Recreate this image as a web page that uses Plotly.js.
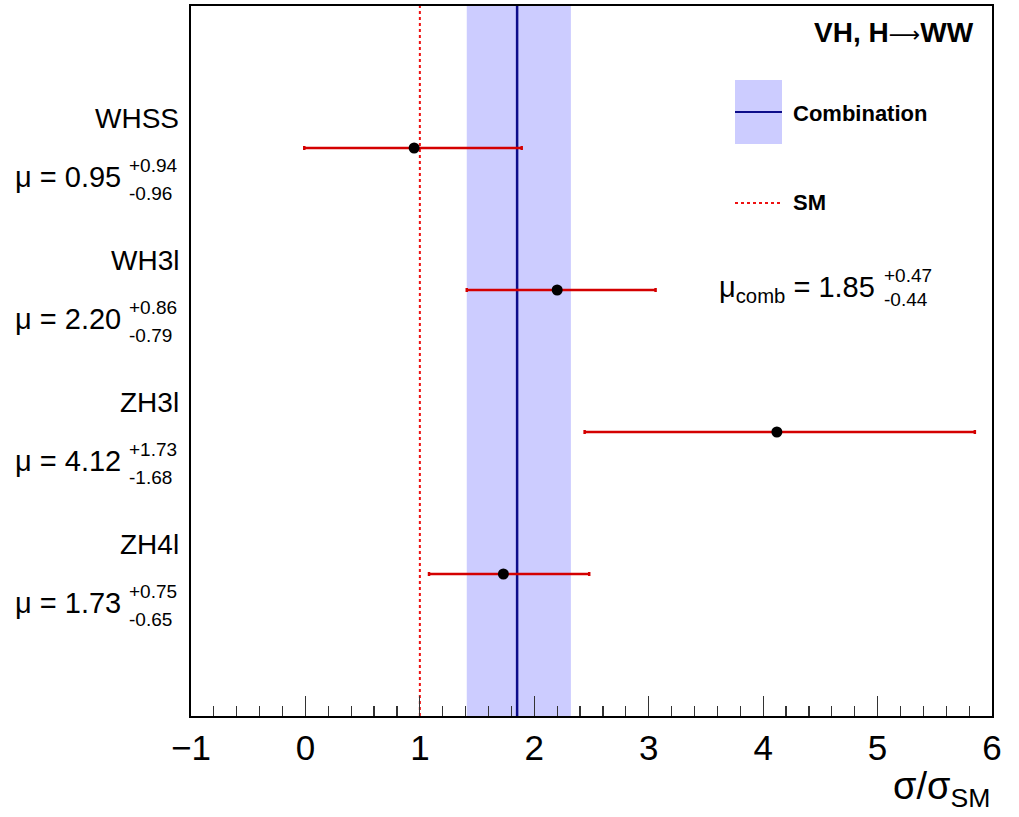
<!DOCTYPE html>
<html>
<head>
<meta charset="utf-8">
<script src="https://cdn.plot.ly/plotly-3.0.1.min.js"></script>
<style>html,body{margin:0;padding:0;background:#fff;}#chart{width:1019px;height:817px;}</style>
</head>
<body>
<div id="chart"></div>
<script>
// ---- data ----
const channels = ["WHSS", "WH3l", "ZH3l", "ZH4l"];
const channelLabels = ["WHSS", "WH3l", "ZH3l", "ZH4l"];
const mu = [0.95, 2.20, 4.12, 1.73];
const errUp = [0.94, 0.86, 1.73, 0.75];
const errDown = [0.96, 0.79, 1.68, 0.65];
const rowPos = [4, 3, 2, 1];
const muComb = 1.85;
const muCombUp = 0.47;
const muCombDown = 0.44;
const smValue = 1;
const xTickVals = [-1, 0, 1, 2, 3, 4, 5, 6];

// layout helpers (plot area in pixels: left 191, right 992, top 6, bottom 716)
const L = 191, R = 992, T = 6, B = 716;
const px = x => (x - L) / (R - L);
const py = y => (B - y) / (B - T);

const FONT = "Liberation Sans, Arial, Helvetica, sans-serif";

const traces = [{
  type: "scatter",
  mode: "markers",
  x: mu,
  y: rowPos,
  marker: {color: "black", size: 11},
  error_x: {
    type: "data",
    symmetric: false,
    array: errUp,
    arrayminus: errDown,
    color: "#d40000",
    thickness: 2.5,
    width: 2
  },
  showlegend: false,
  hoverinfo: "x"
}];

const annotations = [];
channels.forEach((c, i) => {
  annotations.push({xref: "paper", yref: "y", x: px(181), y: rowPos[i], yshift: 30,
    xanchor: "right", yanchor: "middle", showarrow: false, text: channelLabels[i],
    font: {family: FONT, size: 28, color: "black"}});
  annotations.push({xref: "paper", yref: "y", x: px(123), y: rowPos[i], yshift: -29,
    xanchor: "right", yanchor: "middle", showarrow: false, text: "\u03bc = " + mu[i].toFixed(2),
    font: {family: FONT, size: 29, color: "black"}});
  annotations.push({xref: "paper", yref: "y", x: px(127), y: rowPos[i], yshift: -17,
    xanchor: "left", yanchor: "middle", showarrow: false, text: "+" + errUp[i].toFixed(2),
    font: {family: FONT, size: 19, color: "black"}});
  annotations.push({xref: "paper", yref: "y", x: px(127), y: rowPos[i], yshift: -45,
    xanchor: "left", yanchor: "middle", showarrow: false, text: "-" + errDown[i].toFixed(2),
    font: {family: FONT, size: 19, color: "black"}});
});

// combination text
annotations.push({xref: "paper", yref: "paper", x: px(877), y: py(289),
  xanchor: "right", yanchor: "middle", showarrow: false,
  text: "\u03bc<sub>comb</sub> = " + muComb.toFixed(2),
  font: {family: FONT, size: 29, color: "black"}});
annotations.push({xref: "paper", yref: "paper", x: px(882), y: py(275),
  xanchor: "left", yanchor: "middle", showarrow: false, text: "+" + muCombUp.toFixed(2),
  font: {family: FONT, size: 19, color: "black"}});
annotations.push({xref: "paper", yref: "paper", x: px(882), y: py(299),
  xanchor: "left", yanchor: "middle", showarrow: false, text: "-" + muCombDown.toFixed(2),
  font: {family: FONT, size: 19, color: "black"}});

// header
annotations.push({xref: "paper", yref: "paper", x: px(976), y: py(33),
  xanchor: "right", yanchor: "middle", showarrow: false,
  text: "<b>VH, H</b><span style=\"font-family:'DejaVu Sans';font-weight:normal;font-size:22px\">\u27f6</span><b>WW</b>",
  font: {family: FONT, size: 28, color: "black"}});

// legend text
annotations.push({xref: "paper", yref: "paper", x: px(791), y: py(113),
  xanchor: "left", yanchor: "middle", showarrow: false, text: "<b>Combination</b>",
  font: {family: FONT, size: 22, color: "black"}});
annotations.push({xref: "paper", yref: "paper", x: px(791), y: py(203),
  xanchor: "left", yanchor: "middle", showarrow: false, text: "<b>SM</b>",
  font: {family: FONT, size: 22, color: "black"}});

// x axis title
annotations.push({xref: "paper", yref: "paper", x: 1, y: py(789),
  xanchor: "right", yanchor: "middle", showarrow: false, text: "\u03c3/\u03c3<sub>SM</sub>",
  font: {family: FONT, size: 38, color: "black"}});

const shapes = [
  // combination band
  {type: "rect", xref: "x", yref: "paper", x0: muComb - muCombDown, x1: muComb + muCombUp,
   y0: 0, y1: 1, fillcolor: "#ccccff", line: {width: 0}, layer: "below"},
  // combination line
  {type: "line", xref: "x", yref: "paper", x0: muComb, x1: muComb, y0: 0, y1: 1,
   line: {color: "#0c0c8a", width: 2.5}, layer: "below"},
  // SM line
  {type: "line", xref: "x", yref: "paper", x0: smValue, x1: smValue, y0: 0, y1: 1,
   line: {color: "#ee1111", width: 2, dash: "dot"}, layer: "below"},
  // legend: combination swatch
  {type: "rect", xref: "paper", yref: "paper", x0: px(735), x1: px(782), y0: py(144), y1: py(80),
   fillcolor: "#ccccff", line: {width: 0}},
  {type: "line", xref: "paper", yref: "paper", x0: px(735), x1: px(782), y0: py(112), y1: py(112),
   line: {color: "#0c0c8a", width: 2}},
  // legend: SM swatch
  {type: "line", xref: "paper", yref: "paper", x0: px(735), x1: px(782), y0: py(203), y1: py(203),
   line: {color: "#ee1111", width: 2, dash: "dot"}}
];

const layout = {
  width: 1019, height: 817,
  margin: {l: L, r: 1019 - R, t: T, b: 817 - B, pad: 0},
  paper_bgcolor: "white", plot_bgcolor: "white",
  showlegend: false,
  xaxis: {
    range: [-1, 6], tickvals: xTickVals, ticktext: xTickVals.map(v => v < 0 ? "\u2212" + Math.abs(v) : String(v)),
    ticks: "inside", ticklen: 20, tickwidth: 1.2, tickcolor: "#333",
    minor: {dtick: 0.2, tick0: 0, ticks: "inside", ticklen: 10, tickwidth: 1.2, tickcolor: "#333", showgrid: false},
    showline: true, linecolor: "black", linewidth: 2, mirror: true,
    showgrid: false, zeroline: false,
    tickfont: {family: FONT, size: 35, color: "black"}
  },
  yaxis: {
    range: [0, 5], showticklabels: false, ticks: "", showgrid: false, zeroline: false,
    showline: true, linecolor: "black", linewidth: 2, mirror: true
  },
  shapes: shapes,
  annotations: annotations
};

Plotly.newPlot("chart", traces, layout, {displayModeBar: false, staticPlot: true});
</script>
</body>
</html>
